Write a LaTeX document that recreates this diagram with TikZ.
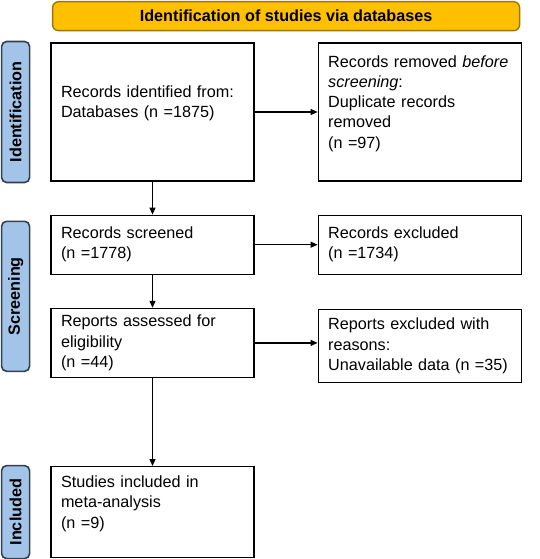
\documentclass[tikz,border=0pt]{standalone}
\usepackage{fontspec}
\setmainfont{Liberation Sans}
\usetikzlibrary{positioning,arrows.meta,calc}

\definecolor{bannerfill}{HTML}{FFC000}
\definecolor{bannerline}{HTML}{9C7800}
\definecolor{stagefill}{HTML}{A3C4E9}
\definecolor{stageline}{HTML}{33404F}
\newcommand{\flowfont}{\fontsize{16.2}{20.2}\selectfont}

\tikzset{
	box/.style={draw, line width=1.2pt, align=left, text width=183pt,
		inner xsep=10pt, inner ysep=0pt, font=\flowfont},
	stage/.style={draw=stageline, fill=stagefill, line width=1.6pt, rounded corners=5pt,
		rotate=90, minimum height=28pt, inner sep=0pt, font=\flowfont\bfseries},
	banner/.style={draw=bannerline, fill=bannerfill, line width=1.4pt, rounded corners=6pt,
		minimum width=467pt, minimum height=29pt, inner sep=0pt, font=\flowfont\bfseries}
}

\begin{document}
\begin{tikzpicture}[>={Triangle[length=7pt,width=6pt]}, line width=1.2pt]
	\useasboundingbox (0,0) rectangle (540pt,-559pt);

	\node (ident)[box, minimum height=138pt] at (152.5pt,-112pt){Records identified from:\\
		Databases (n =1875)\\\mbox{}};
	\node (removed)[box, minimum height=138pt, right=63pt of ident]{Records removed \textit{before}\\
		\textit{screening}:\\
		Duplicate records\\
		removed\\
		(n =97)\\\mbox{}};

	\node (screened)[box, minimum height=59pt, below=33pt of ident]{Records screened\\
		(n =1778)};
	\node (excluded)[box, minimum height=59pt, right=63pt of screened]{Records excluded\\
		(n =1734)};

	\node (assessed)[box, minimum height=69pt, below=33pt of screened]{Reports assessed for\\
		eligibility\\
		(n =44)};
	\node (reasons)[box, minimum height=73pt, right=63pt of assessed, yshift=-3pt]{Reports excluded with\\
		reasons:\\
		Unavailable data (n =35)};

	\node (included)[box, minimum height=91pt, below=88pt of assessed]{Studies included in\\
		meta-analysis\\
		(n =9)\\\mbox{}};

	% banner and stage labels
	\coordinate (top) at ($(ident.north west)!.5!(removed.north east)$);
	\node (title)[banner, above=11pt of top]{Identification of studies via databases};

	\coordinate (scrmid) at ($(screened.north west)!.5!(assessed.south west)$);
	\node (idlabel)[stage, minimum width=141pt, left=20pt of ident, anchor=south]{Identification};
	\node (scrlabel)[stage, minimum width=150pt, left=20pt of scrmid, anchor=south]{Screening};
	\node (inclabel)[stage, minimum width=93pt, left=20pt of included, anchor=south]{Included};

	% draw the connections
	\draw[->] (ident)--(removed);
	\draw[->] (ident)--(screened);
	\draw[->] (screened)--(excluded);
	\draw[->] (screened)--(assessed);
	\draw[->] (assessed.east)--(assessed.east -| reasons.west);
	\draw[->] (assessed)--(included);
\end{tikzpicture}
\end{document}
